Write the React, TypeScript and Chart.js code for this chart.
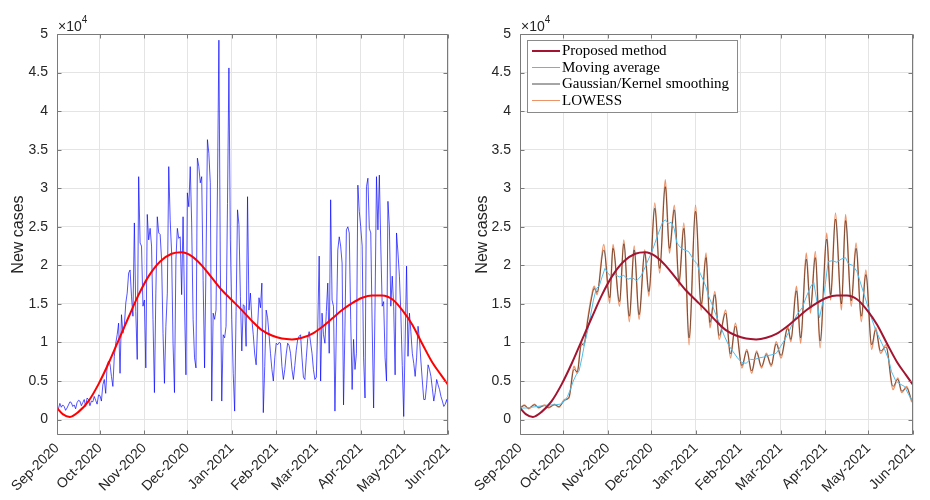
import React, { useEffect, useRef } from "react";
import { Chart, registerables } from "chart.js";

Chart.register(...registerables);

// ---------- data (cases in thousands; day 0 = 1 Sep 2020) ----------
const monthTickDays = [0, 30, 61, 91, 122, 153, 181, 212, 242, 273];
const monthTickLabels = [
  "Sep-2020", "Oct-2020", "Nov-2020", "Dec-2020", "Jan-2021",
  "Feb-2021", "Mar-2021", "Apr-2021", "May-2021", "Jun-2021",
];
const yTickValues = [0, 5, 10, 15, 20, 25, 30, 35, 40, 45, 50];
const yTickLabels = ["0", "0.5", "1", "1.5", "2", "2.5", "3", "3.5", "4", "4.5", "5"];

// daily new cases (thousands)
const rawCases = [
  1.5, 1.4, 2.1, 1.6, 1.9, 1.7, 1.2, 1.5, 1.9, 2.3,
  2.2, 1.7, 1.9, 1.4, 2.2, 2.5, 2.4, 1.8, 2.2, 2.6,
  1.7, 2.8, 2.6, 1.8, 2.4, 2.3, 3.0, 2.5, 2.0, 3.2,
  3.1, 2.4, 4.5, 5.2, 3.4, 7.1, 7.6, 7.2, 5.6, 4.3,
  8.2, 9.9, 11.0, 12.5, 6.0, 13.6, 11.2, 12.1, 15.1, 16.4,
  19.0, 19.4, 16.0, 13.4, 25.5, 14.0, 7.8, 31.5, 22.9, 22.5,
  14.7, 15.5, 6.7, 26.6, 23.3, 24.8, 22.5, 13.0, 3.5, 16.4,
  26.3, 24.2, 24.0, 20.7, 11.2, 4.7, 12.1, 16.4, 32.8, 25.9,
  21.6, 9.9, 3.5, 20.7, 24.8, 23.5, 23.7, 16.2, 26.3, 15.0,
  5.8, 29.4, 27.6, 32.8, 25.5, 13.0, 8.0, 6.7, 33.9, 32.8,
  30.7, 31.5, 18.0, 6.7, 20.0, 36.3, 34.5, 30.7, 2.4, 13.8,
  13.0, 14.2, 30.0, 49.2, 20.0, 2.4, 11.0, 10.6, 12.1, 28.0,
  45.6, 23.3, 13.0, 6.0, 1.1, 14.0, 27.2, 25.3, 16.0, 8.9,
  14.9, 14.7, 9.5, 28.9, 14.2, 16.4, 13.0, 11.0, 8.5, 7.1,
  12.0, 15.8, 14.5, 17.7, 0.9, 6.9, 14.2, 13.2, 11.0, 8.6,
  6.5, 5.0, 8.0, 9.9, 9.7, 10.0, 9.9, 6.9, 5.2, 6.5,
  8.5, 9.9, 9.6, 8.6, 6.5, 5.2, 7.0, 9.0, 10.4, 10.8,
  11.0, 8.0, 5.5, 5.2, 8.0, 10.5, 11.4, 10.0, 8.6, 6.5,
  5.2, 5.5, 12.0, 21.2, 5.0, 13.8, 11.0, 9.9, 14.0, 17.7,
  8.6, 28.5, 15.5, 14.7, 1.1, 12.0, 22.0, 23.7, 22.5, 20.3,
  1.9, 12.0, 24.6, 25.0, 24.2, 13.0, 3.9, 10.4, 6.5, 8.6,
  30.4, 27.0, 25.0, 22.5, 8.0, 2.8, 30.2, 31.3, 24.8, 24.2,
  12.0, 1.5, 15.0, 31.5, 24.6, 31.7, 22.5, 14.7, 15.3, 8.0,
  5.0, 28.3, 25.0, 14.7, 18.6, 14.7, 5.8, 24.2, 21.6, 18.6,
  13.8, 7.0, 0.4, 10.0, 19.9, 8.2, 13.8, 11.4, 8.6, 7.3,
  5.6, 8.0, 12.1, 10.4, 7.6, 5.0, 2.6, 2.6, 4.5, 7.1,
  6.5, 5.6, 4.0, 2.4, 3.5, 5.2, 4.5, 3.9, 3.0, 2.4,
  1.7, 2.0, 2.6, 1.7,
];

// proposed method (smooth fitted curve)
const proposedDays = [
  0, 4, 9, 15, 22, 29, 36, 43, 50, 57, 64, 72, 80, 87, 94, 101, 108, 115, 122, 129,
  136, 143, 150, 157, 164, 171, 178, 185, 192, 199, 206, 213, 220, 227, 234, 241, 248, 255, 262, 268, 273,
];
const proposedCases = [
  1.5, 0.7, 0.35, 1.0, 2.4, 4.6, 7.3, 10.3, 13.3, 16.2, 18.6, 20.5, 21.5, 21.7, 21.2, 20.0, 18.4, 16.8, 15.5, 14.2,
  12.8, 11.6, 10.9, 10.5, 10.4, 10.6, 11.1, 12.0, 13.1, 14.2, 15.1, 15.8, 16.1, 16.1, 15.6, 14.2, 12.3, 9.8, 7.4, 5.8, 4.5,
];

// moving average
const maDays = [
  0, 4, 8, 12, 16, 20, 24, 28, 31, 33, 35, 37, 39, 41, 43, 45, 47, 49, 51, 53,
  55, 57, 59, 61, 63, 66, 69, 72, 75, 78, 81, 84, 87, 89, 91, 93, 95, 97, 99, 101,
  103, 105, 107, 109, 111, 114, 117, 119, 121, 123, 125, 127, 129, 131, 133, 136, 139, 142, 145, 148,
  151, 154, 157, 160, 163, 166, 169, 172, 175, 178, 181, 184, 187, 190, 193, 196, 199, 202, 204, 206,
  208, 210, 212, 214, 217, 220, 223, 226, 228, 231, 234, 236, 238, 241, 244, 247, 250, 253, 256, 258,
  261, 264, 267, 270, 273,
];
const maCases = [
  1.5, 1.5, 1.6, 1.7, 1.8, 1.9, 1.9, 2.0, 2.4, 3.0, 3.9, 5.0, 5.8, 6.3, 8.0, 10.0, 11.5, 13.5, 15.5, 17.0,
  17.3, 18.5, 19.6, 19.0, 18.6, 18.8, 18.5, 18.7, 18.2, 18.4, 18.0, 18.6, 19.8, 20.7, 21.5, 22.5, 23.6, 24.6, 25.6, 25.9,
  25.4, 25.6, 24.8, 22.9, 22.4, 22.0, 21.8, 21.2, 20.6, 20.2, 19.0, 18.2, 17.3, 16.0, 15.1, 13.6, 12.2, 10.8, 9.6, 8.8,
  8.0, 7.4, 7.3, 7.8, 7.8, 8.0, 8.1, 8.3, 8.4, 8.6, 9.5, 10.4, 11.5, 12.8, 13.8, 14.5, 16.0, 17.3, 17.8, 15.5,
  13.2, 15.0, 17.5, 20.5, 20.6, 20.4, 20.8, 21.0, 20.2, 20.0, 19.2, 18.0, 16.8, 15.0, 13.2, 11.6, 10.4, 9.2, 7.8, 6.2,
  5.0, 4.6, 4.3, 3.2, 2.2,
];

// Gaussian/Kernel smoothing and LOWESS (read at their turning points)
const smoothDays = [
  0, 3, 6, 10, 13, 17, 20, 24, 27, 31, 34, 37.5, 39.7, 42.5, 44.5, 47, 50, 51.5, 53.5, 58.2,
  62.3, 64.6, 69.1, 72.1, 75.9, 79.3, 82.7, 86.6, 89.5, 93.6, 97, 100.9, 103.8, 107.2, 110.4, 113.8, 117.4, 121.9, 125.8, 129.2,
  131.9, 135.3, 138.3, 142.8, 146.2, 149.6, 154.1, 157.5, 160.9, 164.3, 167.7, 171.1, 174.5, 177.9, 181.3, 185.9, 188.1, 192, 194.9, 198.8,
  201.7, 205.1, 208.4, 213, 215.7, 219.1, 223.2, 226.1, 230, 233.4, 237, 240.2, 244.2, 247, 250.4, 254.2, 259, 262.4, 265.1, 268.5,
  271.9, 273,
];
const gaussCases = [
  1.5, 1.8, 1.5, 1.9, 1.6, 1.8, 1.6, 1.9, 1.7, 2.5, 2.9, 6.5, 6.2, 9.6, 9.9, 12.8, 16.0, 17.0, 16.5, 22.0,
  15.8, 22.2, 15.3, 22.8, 13.4, 22.0, 13.6, 21.6, 16.6, 27.4, 19.6, 30.2, 22.2, 27.2, 18.0, 24.8, 10.6, 27.0, 15.0, 21.0,
  12.6, 16.2, 10.9, 13.8, 8.5, 12.1, 7.0, 8.9, 6.3, 8.7, 6.9, 8.4, 7.1, 9.8, 8.3, 11.8, 10.4, 16.7, 10.6, 20.8,
  14.5, 21.0, 10.2, 23.4, 16.2, 26.0, 15.0, 25.8, 15.4, 22.2, 13.4, 18.8, 9.7, 11.6, 8.9, 9.4, 4.3, 5.2, 3.7, 4.1,
  2.6, 2.3,
];
const lowessCases = [
  1.5, 1.9, 1.4, 2.0, 1.5, 1.9, 1.5, 2.0, 1.6, 2.6, 2.8, 6.9, 6.0, 9.9, 9.6, 13.0, 16.3, 17.3, 16.2, 22.7,
  15.1, 22.7, 14.7, 23.3, 12.7, 22.5, 13.0, 22.0, 16.0, 28.1, 19.0, 31.1, 21.6, 27.8, 17.3, 25.5, 9.7, 27.8, 14.2, 21.6,
  11.9, 16.6, 10.4, 14.2, 8.0, 12.5, 6.7, 9.1, 6.0, 8.9, 6.7, 8.6, 6.9, 10.1, 8.0, 12.1, 10.1, 17.3, 9.9, 21.6,
  13.8, 21.8, 9.3, 24.2, 15.5, 26.8, 14.2, 26.6, 14.7, 22.9, 12.7, 19.4, 9.1, 11.9, 8.6, 9.7, 3.9, 5.4, 3.5, 4.3,
  2.4, 2.2,
];

// ---------- styling ----------
const SANS = '"Liberation Sans", Arial, Helvetica, sans-serif';
const SERIF = '"Liberation Serif", "Times New Roman", serif';
const TEXT = "#262626";
const GRID = "#e4e4e4";
const FRAME = "#7a7a7a";

const pairs = (xs: number[], ys: number[]) => xs.map((x, i) => ({ x, y: ys[i] }));

const framePlugin = {
  id: "matlabFrame",
  afterDatasetsDraw(chart: any) {
    const { ctx, chartArea } = chart;
    const { left, right, top, bottom } = chartArea;
    const xs = chart.scales.x;
    const ys = chart.scales.y;
    ctx.save();
    ctx.strokeStyle = FRAME;
    ctx.lineWidth = 1;
    const L = Math.round(left) + 0.5;
    const R = Math.round(right) - 0.5;
    const T = Math.round(top) + 0.5;
    const B = Math.round(bottom) - 0.5;
    ctx.beginPath();
    ctx.rect(L, T, R - L, B - T);
    const tl = 4;
    monthTickDays.forEach((d) => {
      const px = Math.round(xs.getPixelForValue(d)) + 0.5;
      ctx.moveTo(px, B);
      ctx.lineTo(px, B - tl);
      ctx.moveTo(px, T);
      ctx.lineTo(px, T + tl);
    });
    yTickValues.forEach((v) => {
      const py = Math.round(ys.getPixelForValue(v)) + 0.5;
      ctx.moveTo(L, py);
      ctx.lineTo(L + tl, py);
      ctx.moveTo(R, py);
      ctx.lineTo(R - tl, py);
    });
    ctx.stroke();
    // exponent label
    ctx.fillStyle = TEXT;
    ctx.textBaseline = "alphabetic";
    ctx.textAlign = "left";
    ctx.font = `14px ${SANS}`;
    const base = "\u00d710";
    ctx.fillText(base, left + 1, top - 3);
    const w = ctx.measureText(base).width;
    ctx.font = `10px ${SANS}`;
    ctx.fillText("4", left + 1 + w, top - 11);
    ctx.restore();
  },
};

const LOWESS_COLOR = "rgba(232,120,68,0.8)";
const GAUSS_COLOR = "rgba(0,0,0,0.7)";

const legendItems = [
  { label: "Proposed method", color: "#a2142f", width: 2 },
  { label: "Moving average", color: "#4dbeee", width: 1 },
  { label: "Gaussian/Kernel smoothing", color: GAUSS_COLOR, width: 1 },
  { label: "LOWESS", color: LOWESS_COLOR, width: 1 },
];

const legendPlugin = {
  id: "insideLegend",
  afterDraw(chart: any) {
    const { ctx } = chart;
    const bx = 62, by = 40, bw = 210, bh = 72;
    ctx.save();
    ctx.fillStyle = "#ffffff";
    ctx.fillRect(bx, by, bw, bh);
    ctx.strokeStyle = "#8a8a8a";
    ctx.lineWidth = 1;
    ctx.strokeRect(bx + 0.5, by + 0.5, bw, bh);
    ctx.font = `15px ${SERIF}`;
    ctx.textBaseline = "middle";
    ctx.textAlign = "left";
    legendItems.forEach((it, i) => {
      const y = 51 + i * 16.5;
      ctx.strokeStyle = it.color;
      ctx.lineWidth = it.width;
      ctx.beginPath();
      ctx.moveTo(67, y);
      ctx.lineTo(95, y);
      ctx.stroke();
      ctx.fillStyle = "#000";
      ctx.fillText(it.label, 97, y + 0.5);
    });
    ctx.restore();
  },
};

function makeOptions(yAxisWidth: number, padRight: number, titlePad: number) {
  return {
    animation: false as const,
    responsive: false,
    maintainAspectRatio: false,
    layout: { padding: { left: 0, right: padRight, top: 34, bottom: 0 } },
    plugins: { legend: { display: false }, tooltip: { enabled: false } },
    elements: { point: { radius: 0 } },
    scales: {
      x: {
        type: "linear" as const,
        min: 0,
        max: 273,
        afterBuildTicks: (a: any) => {
          a.ticks = monthTickDays.map((v) => ({ value: v }));
        },
        afterFit: (a: any) => {
          a.height = 65;
        },
        ticks: {
          autoSkip: false,
          minRotation: 45,
          maxRotation: 45,
          padding: 5,
          color: TEXT,
          font: { family: SANS, size: 14 },
          callback: (v: any) => monthTickLabels[monthTickDays.indexOf(Number(v))] ?? "",
        },
        grid: { color: GRID, drawTicks: false, lineWidth: 1 },
        border: { display: false },
      },
      y: {
        type: "linear" as const,
        min: -2,
        max: 50,
        afterBuildTicks: (a: any) => {
          a.ticks = yTickValues.map((v) => ({ value: v }));
        },
        afterFit: (a: any) => {
          a.width = yAxisWidth;
        },
        ticks: {
          padding: 9,
          color: TEXT,
          font: { family: SANS, size: 14 },
          callback: (v: any) => yTickLabels[yTickValues.indexOf(Number(v))] ?? "",
        },
        grid: { color: GRID, drawTicks: false, lineWidth: 1 },
        border: { display: false },
        title: {
          display: true,
          text: "New cases",
          color: TEXT,
          font: { family: SANS, size: 16 },
          padding: { top: titlePad, bottom: 0 },
        },
      },
    },
  };
}

export default function App() {
  const leftRef = useRef<HTMLCanvasElement>(null);
  const rightRef = useRef<HTMLCanvasElement>(null);

  useEffect(() => {
    const rawPoints = rawCases.map((v, i) => ({ x: i, y: v }));
    const left = new Chart(leftRef.current!, {
      type: "line",
      data: {
        datasets: [
          {
            label: "Proposed method",
            data: pairs(proposedDays, proposedCases),
            borderColor: "#ff0000",
            borderWidth: 2,
            cubicInterpolationMode: "monotone",
            order: 0,
          },
          {
            label: "New cases",
            data: rawPoints,
            borderColor: "rgba(0,0,255,0.85)",
            borderWidth: 0.8,
            tension: 0,
            order: 1,
          },
        ],
      },
      options: makeOptions(57, 6, 9) as any,
      plugins: [framePlugin],
    });

    const right = new Chart(rightRef.current!, {
      type: "line",
      data: {
        datasets: [
          {
            label: "Proposed method",
            data: pairs(proposedDays, proposedCases),
            borderColor: "#a2142f",
            borderWidth: 2,
            cubicInterpolationMode: "monotone",
            order: 0,
          },
          {
            label: "Moving average",
            data: pairs(maDays, maCases),
            borderColor: "#4dbeee",
            borderWidth: 1,
            tension: 0,
            order: 1,
          },
          {
            label: "Gaussian/Kernel smoothing",
            data: pairs(smoothDays, gaussCases),
            borderColor: GAUSS_COLOR,
            borderWidth: 0.7,
            cubicInterpolationMode: "monotone",
            order: 2,
          },
          {
            label: "LOWESS",
            data: pairs(smoothDays, lowessCases),
            borderColor: LOWESS_COLOR,
            borderWidth: 1.5,
            cubicInterpolationMode: "monotone",
            order: 3,
          },
        ],
      },
      options: makeOptions(55, 8, 8) as any,
      plugins: [framePlugin, legendPlugin],
    });

    return () => {
      left.destroy();
      right.destroy();
    };
  }, []);

  return (
    <div style={{ position: "absolute", left: 0, top: 0, width: 930, height: 500, background: "#ffffff" }}>
      <canvas ref={leftRef} width={465} height={500} style={{ position: "absolute", left: 0, top: 0 }} />
      <canvas ref={rightRef} width={465} height={500} style={{ position: "absolute", left: 465, top: 0 }} />
    </div>
  );
}
